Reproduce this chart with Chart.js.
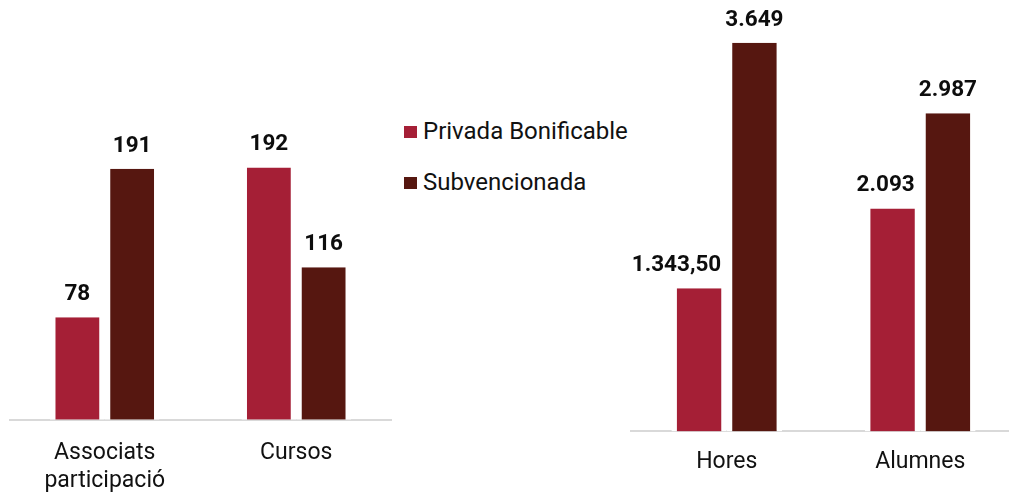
<!DOCTYPE html>
<html>
<head>
<meta charset="utf-8">
<script src="https://cdn.jsdelivr.net/npm/chart.js@4.4.1/dist/chart.umd.min.js"></script>
<style>
  html, body { margin: 0; padding: 0; background: #fff; width: 1009px; height: 492px; overflow: hidden; position: relative; font-family: Roboto, sans-serif; }
  #leftWrap { position: absolute; left: 9px; top: 0; width: 383px; height: 515px; }
  #rightWrap { position: absolute; left: 630px; top: 0; width: 387px; height: 493px; }
  #legend { position: absolute; left: 404px; top: 117px; font: 24px Roboto, sans-serif; color: #111; }
  .item { position: relative; height: 51px; }
  .sw { position: absolute; left: 0; top: 9px; width: 13px; height: 12px; }
  .tx { position: absolute; left: 19px; top: 0; line-height: 28px; white-space: nowrap; }
</style>
</head>
<body>
<div id="leftWrap"><canvas id="left"></canvas></div>
<div id="legend"></div>
<div id="rightWrap"><canvas id="right"></canvas></div>
<script>
// ---- data ----
const seriesNames = ['Privada Bonificable', 'Subvencionada'];
const leftCategories = [['Associats', 'participació'], ['Cursos']];
const leftPrivada = [78, 192];
const leftSubvencionada = [191, 116];
const rightCategories = ['Hores', 'Alumnes'];
const rightPrivada = [1343.5, 2093];
const rightSubvencionada = [3649, 2987];
const colors = ['#A51F36', '#561710'];

function fmt(v) {
  const dec = Number.isInteger(v) ? 0 : 2;
  const parts = v.toFixed(dec).split('.');
  parts[0] = parts[0].replace(/\B(?=(\d{3})+(?!\d))/g, '.');
  return parts.join(',');
}

const barLabels = {
  id: 'barLabels',
  afterDatasetsDraw(chart) {
    const ctx = chart.ctx;
    ctx.save();
    ctx.font = 'bold 22.5px Roboto, sans-serif';
    ctx.fillStyle = '#0d0d0d';
    ctx.textBaseline = 'alphabetic';
    chart.data.datasets.forEach((ds, i) => {
      const meta = chart.getDatasetMeta(i);
      meta.data.forEach((bar, j) => {
        const txt = fmt(ds.data[j]);
        let x = bar.x;
        if (ds.labelAlign === 'right') {
          ctx.textAlign = 'right';
          x = bar.x + bar.width / 2 - 5.5;
        } else {
          ctx.textAlign = 'center';
        }
        ctx.fillText(txt, x, bar.y - 17);
      });
    });
    ctx.restore();
  }
};

function makeDataset(label, data, color, extra) {
  return Object.assign({
    label, data,
    backgroundColor: color,
    borderColor: '#ffffff',
    borderWidth: { left: 5.5, right: 5.5, top: 0, bottom: 0 },
    borderSkipped: false,
    categoryPercentage: 0.572,
    barPercentage: 1
  }, extra || {});
}

function makeOptions(yMax, pad) {
  return {
    responsive: true,
    maintainAspectRatio: false,
    animation: false,
    events: [],
    layout: { padding: 0 },
    plugins: { legend: { display: false }, tooltip: { enabled: false } },
    scales: {
      x: {
        grid: { display: false, drawTicks: false },
        border: { display: true, color: '#d9d9d9', width: 2 },
        ticks: { color: '#111', font: { family: 'Roboto', size: 23, lineHeight: 1.2 }, padding: pad, maxRotation: 0 }
      },
      y: { display: false, min: 0, max: yMax }
    }
  };
}

new Chart(document.getElementById('left'), {
  type: 'bar',
  data: {
    labels: leftCategories,
    datasets: [
      makeDataset(seriesNames[0], leftPrivada, colors[0]),
      makeDataset(seriesNames[1], leftSubvencionada, colors[1])
    ]
  },
  options: makeOptions(319.4, 20),
  plugins: [barLabels]
});

new Chart(document.getElementById('right'), {
  type: 'bar',
  data: {
    labels: rightCategories,
    datasets: [
      makeDataset(seriesNames[0], rightPrivada, colors[0], { labelAlign: 'right' }),
      makeDataset(seriesNames[1], rightSubvencionada, colors[1])
    ]
  },
  options: makeOptions(4050, 17),
  plugins: [barLabels]
});

// legend
const legend = document.getElementById('legend');
seriesNames.forEach((name, i) => {
  const item = document.createElement('div');
  item.className = 'item';
  const sw = document.createElement('span');
  sw.className = 'sw';
  sw.style.background = colors[i];
  const tx = document.createElement('span');
  tx.className = 'tx';
  tx.textContent = name;
  item.appendChild(sw);
  item.appendChild(tx);
  legend.appendChild(item);
});
</script>
</body>
</html>
